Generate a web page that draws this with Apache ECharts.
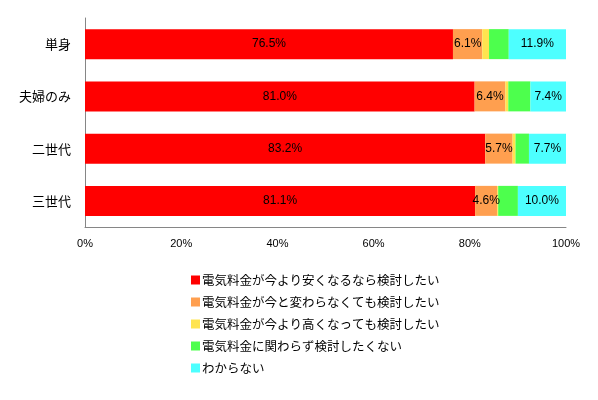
<!DOCTYPE html>
<html><head><meta charset="utf-8">
<script src="https://cdn.jsdelivr.net/npm/echarts@6/dist/echarts.min.js"></script>
<style>html,body{margin:0;padding:0;background:#fff}#c{width:598px;height:400px}</style>
</head><body><div id="c"></div>
<script>
const categories = ['単身', '夫婦のみ', '二世代', '三世代'];
const seriesNames = [
  '電気料金が今より安くなるなら検討したい',
  '電気料金が今と変わらなくても検討したい',
  '電気料金が今より高くなっても検討したい',
  '電気料金に関わらず検討したくない',
  'わからない'
];
const cheaper = [76.5, 81.0, 83.2, 81.1];
const same = [6.1, 6.4, 5.7, 4.6];
const higher = [1.4, 0.6, 0.6, 0.2];
const never = [4.1, 4.6, 2.8, 4.1];
const unknown = [11.9, 7.4, 7.7, 10.0];
const xTicks = [0, 20, 40, 60, 80, 100];

const colors = ['#FF0000', '#FF9F4F', '#FFE44F', '#4DFF4D', '#4DFFFF'];
const values = [cheaper, same, higher, never, unknown];
const showLabel = [true, true, false, false, true];
const cjk = '"Noto Sans CJK JP", sans-serif';

const chart = echarts.init(document.getElementById('c'), null, {renderer: 'canvas'});
chart.setOption({
  animation: false,
  grid: {left: 85, right: 32, top: 18, bottom: 173, containLabel: false},
  xAxis: {
    type: 'value', min: xTicks[0], max: xTicks[xTicks.length - 1], interval: 20,
    axisLine: {show: true, lineStyle: {color: '#868686', width: 1}},
    axisTick: {show: false},
    splitLine: {show: false},
    axisLabel: {formatter: '{value}%', color: '#000', fontSize: 11, fontFamily: '"Liberation Sans", Arial, sans-serif', margin: 11}
  },
  yAxis: {
    type: 'category', data: categories, inverse: true,
    axisLine: {show: true, lineStyle: {color: '#868686', width: 1}},
    axisTick: {show: false},
    axisLabel: {color: '#000', fontSize: 13, fontFamily: cjk, margin: 14}
  },
  legend: {
    orient: 'vertical', left: 191, top: 273, padding: 0,
    itemWidth: 9, itemHeight: 9, itemGap: 8,
    icon: 'rect',
    textStyle: {fontSize: 12.5, color: '#000', fontFamily: cjk, lineHeight: 14, padding: [0, 0, 0, -3]},
    data: seriesNames
  },
  series: seriesNames.map((name, i) => ({
    name, type: 'bar', stack: 'total', barWidth: 30,
    itemStyle: {color: colors[i]},
    label: {
      show: showLabel[i], position: 'inside', color: '#000',
      fontSize: 12, fontFamily: '"Liberation Sans", Arial, sans-serif',
      formatter: p => p.value.toFixed(1) + '%'
    },
    data: values[i]
  }))
});
</script></body></html>
